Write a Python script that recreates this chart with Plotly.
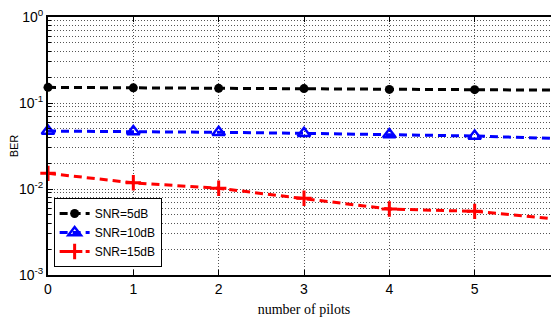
import plotly.graph_objects as go

pilots = [0, 1, 2, 3, 4, 5, 6]
ber_5db = [0.152, 0.150, 0.148, 0.147, 0.144, 0.143, 0.141]
ber_10db = [0.0472, 0.0466, 0.0456, 0.0444, 0.0430, 0.0413, 0.0385]
ber_15db = [0.0152, 0.0118, 0.0102, 0.0078, 0.00585, 0.0055, 0.00444]

series_names = ["SNR=5dB", "SNR=10dB", "SNR=15dB"]
y_tickvals = [1e-3, 1e-2, 1e-1, 1]
y_ticktext = ["10<sup>-3</sup>", "10<sup>-2</sup>", "10<sup>-1</sup>", "10<sup>0</sup>"]
x_tickvals = [0, 1, 2, 3, 4, 5, 6]
minor_vals = [m * 10 ** e for e in range(-3, 0) for m in range(2, 10)]

TICKFONT = dict(family="Liberation Sans Narrow, Arial Narrow, Liberation Sans, Arial", size=14, color="black")
GRID = "#555"
GDASH = "1px,2px"

fig = go.Figure()
fig.add_trace(go.Scatter(
    x=pilots, y=ber_5db, name=series_names[0], mode="lines+markers",
    line=dict(color="black", width=3, dash="8px,5px"),
    marker=dict(symbol="circle", size=9, color="black"),
    cliponaxis=False))
fig.add_trace(go.Scatter(
    x=pilots, y=ber_10db, name=series_names[1], mode="lines+markers",
    line=dict(color="#0000ff", width=3, dash="8px,5px"),
    marker=dict(symbol="triangle-up-open", size=11, color="#0000ff", line=dict(width=2.5, color="#0000ff")),
    cliponaxis=False))
fig.add_trace(go.Scatter(
    x=pilots, y=ber_15db, name=series_names[2], mode="lines+markers",
    line=dict(color="#ff0000", width=3, dash="8px,5px"),
    marker=dict(symbol="cross-thin", size=11, color="#ff0000", line=dict(width=3, color="#ff0000")),
    cliponaxis=False))

fig.update_layout(
    width=559, height=324,
    margin=dict(l=40, r=7, t=9, b=57),
    paper_bgcolor="white", plot_bgcolor="white",
    showlegend=True,
    legend=dict(
        x=0.011, y=0.031, xanchor="left", yanchor="bottom",
        bgcolor="white", bordercolor="black", borderwidth=1,
        font=dict(family="Liberation Sans Narrow, Arial Narrow, Liberation Sans, Arial", size=12, color="black"),
        tracegroupgap=0, itemwidth=30,
    ),
    xaxis=dict(
        range=[0, 6], tickmode="array", tickvals=x_tickvals, automargin=False,
        ticklabeloverflow="allow",
        showline=True, linecolor="black", linewidth=2, mirror="ticks",
        ticks="inside", ticklen=5, tickcolor="black", tickwidth=1,
        showgrid=True, gridcolor=GRID, griddash=GDASH, gridwidth=1,
        zeroline=False, tickfont=TICKFONT,
        title=dict(text="number of pilots", font=dict(family="Liberation Serif, Times New Roman, serif", size=14, color="black"), standoff=8),
    ),
    yaxis=dict(
        type="log", range=[-3, 0], tickmode="array", tickvals=y_tickvals, ticktext=y_ticktext, automargin=False,
        ticklabeloverflow="allow",
        showline=True, linecolor="black", linewidth=2, mirror="ticks",
        ticks="inside", ticklen=5, tickcolor="black", tickwidth=1,
        showgrid=True, gridcolor=GRID, griddash=GDASH, gridwidth=1,
        zeroline=False, tickfont=TICKFONT,
        minor=dict(tickmode="array", tickvals=minor_vals, showgrid=True, gridcolor=GRID, griddash=GDASH,
                   gridwidth=1, ticks="inside", ticklen=3, tickcolor="black"),
        title=dict(text="BER", font=dict(family="Liberation Sans, Arial", size=11, color="black"), standoff=2),
    ),
)

fig.write_html("out.html")
